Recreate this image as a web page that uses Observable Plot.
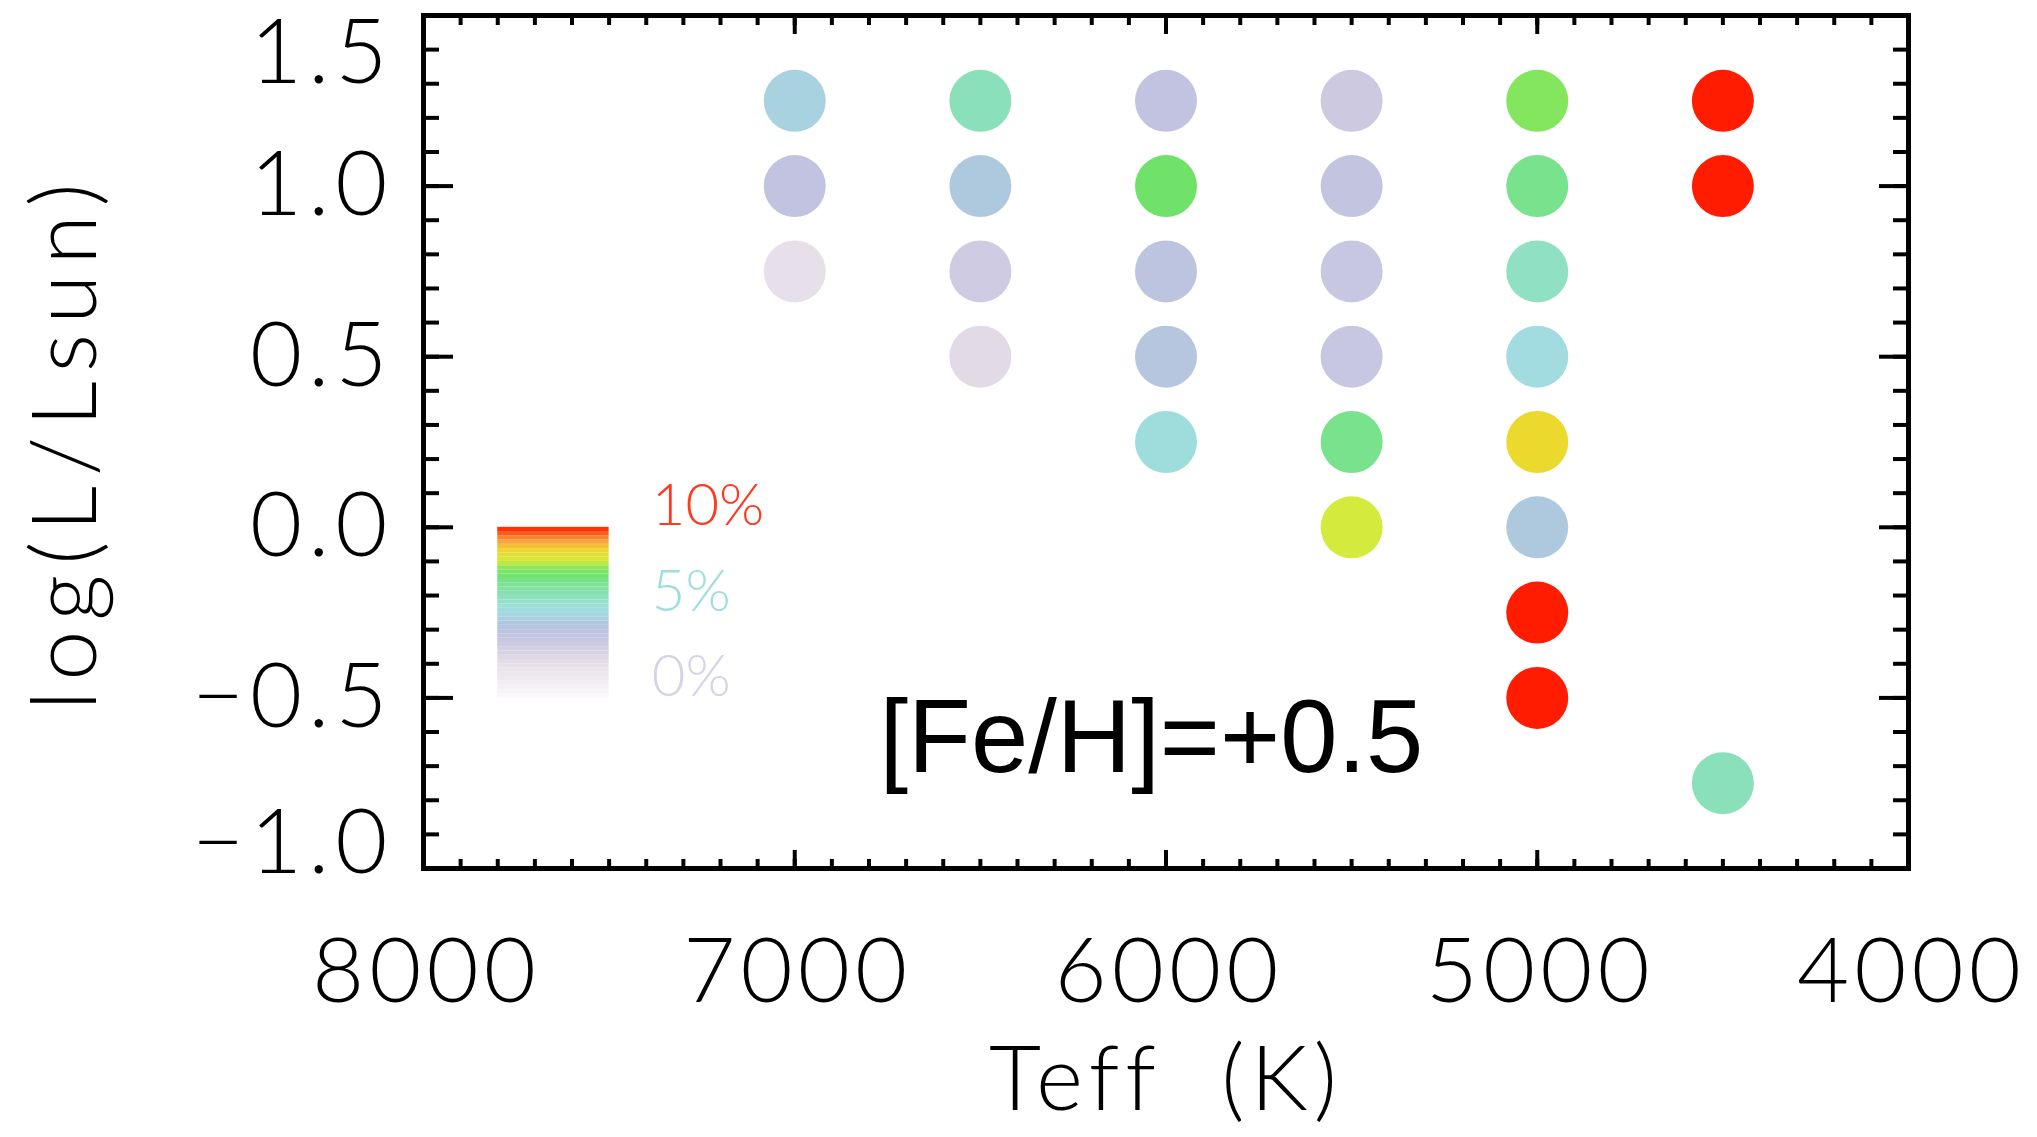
<!DOCTYPE html>
<html><head><meta charset="utf-8">
<script src="https://cdn.jsdelivr.net/npm/d3@7"></script>
<script src="https://cdn.jsdelivr.net/npm/@observablehq/plot@0.6"></script>
<style>
html,body{margin:0;padding:0;background:#fff;}
#chart svg{display:block;}
</style></head><body><div id="chart"></div>
<script>
// Data: effective temperature (K), log(L/Lsun), amplitude in percent
const teff = [7000,7000,7000, 6500,6500,6500,6500, 6000,6000,6000,6000,6000, 5500,5500,5500,5500,5500,5500, 5000,5000,5000,5000,5000,5000,5000,5000, 4500,4500,4500];
const logL = [1.25,1.0,0.75, 1.25,1.0,0.75,0.5, 1.25,1.0,0.75,0.5,0.25, 1.25,1.0,0.75,0.5,0.25,0.0, 1.25,1.0,0.75,0.5,0.25,0.0,-0.25,-0.5, 1.25,1.0,-0.75];
const pct  = [4.7,3.7,1.9, 6.0,4.4,3.1,2.2, 3.7,7.2,3.9,4.1,5.2, 3.2,3.6,3.4,3.4,6.8,8.0, 7.55,6.8,5.8,5.0,8.6,4.4,12,12, 12,12,6.0];

const xMajorTicks = [8000,7000,6000,5000,4000];
const yMajorTicks = [-1,-0.5,0,0.5,1,1.5];
const legendLabels = ["10%","5%","0%"];
const xTitle = "Teff\u00a0 (K)";
const yTitle = "log(L/Lsun)";
const annotation = "[Fe/H]=+0.5";

// colour table stops (percent -> colour)
const colorStops = [0,1,2,3,3.7,4.4,5,5.5,6,6.8,7.2,7.6,8,8.6,9.2,10];
const colorRange = ["#fbfafb","#efebf0","#e6dee8","#d0cce2","#c1c3e0","#aec8de","#a2dbe0","#98e0d4","#8ae0b8","#78e28c","#70e26a","#86e65c","#d4ea3c","#ecd92e","#f8a040","#ff1c00"];
const labelColors = ["#ff3a20","#9fdede","#d8d2e8"];

const points = teff.map((t,i) => ({teff: t, logL: logL[i], pct: pct[i]}));
const xMinor = d3.range(4000, 8001, 100);
const yMinor = d3.range(-10, 16, 1).map(d => d/10);
const ramp = d3.range(0, 10, 0.25);
const legendPos = {x1: 7800, x2: 7500, yTop: 0, yBottom: -0.5, labelX: 7385, labelY: [0.06, -0.19, -0.44]};
const fmtY = d => (d < 0 ? "\u2212" : "") + Math.abs(d).toFixed(1);
const FS = 90;
const font = "Lato, Roboto, sans-serif";
const W = 300;

const tickAxis = (fn, anchor, ticks, size) => fn({anchor, ticks, tickSize: size, fill: "none", strokeWidth: 4, label: null});

const chart = Plot.plot({
  width: 2037, height: 1137,
  marginLeft: 423, marginRight: 129, marginTop: 15, marginBottom: 269,
  x: {domain: [8000, 4000]},
  y: {domain: [-1, 1.5]},
  color: {type: "linear", domain: colorStops, range: colorRange, interpolate: "rgb", clamp: true},
  style: {fontFamily: font, fontWeight: W, background: "#fff", color: "#000"},
  marks: [
    // legend ramp
    Plot.rect(ramp, {x1: legendPos.x1, x2: legendPos.x2,
      y1: d => legendPos.yBottom + d/10*(legendPos.yTop - legendPos.yBottom),
      y2: d => legendPos.yBottom + (d+0.25)/10*(legendPos.yTop - legendPos.yBottom),
      fill: d => d + 0.125}),
    Plot.text(legendLabels, {x: legendPos.labelX, y: (d,i) => legendPos.labelY[i], text: d => d,
      fill: (d,i) => labelColors[i], textAnchor: "start", lineAnchor: "middle", fontSize: 58, fontWeight: W}),
    // points
    Plot.dot(points, {x: "teff", y: "logL", r: 31, fill: "pct"}),
    // annotation
    Plot.text([annotation], {x: 6772, y: -0.718, text: d => d, textAnchor: "start", lineAnchor: "bottom",
      fontFamily: "Liberation Sans, Arial, sans-serif", fontWeight: 400, fontSize: 103, fill: "#000"}),
    // inward ticks, all four sides
    tickAxis(Plot.axisX, "bottom", xMinor, -9),
    tickAxis(Plot.axisX, "bottom", xMajorTicks, -18),
    tickAxis(Plot.axisX, "top", xMinor, -9),
    tickAxis(Plot.axisX, "top", xMajorTicks, -18),
    tickAxis(Plot.axisY, "left", yMinor, -16),
    tickAxis(Plot.axisY, "left", yMajorTicks, -30),
    tickAxis(Plot.axisY, "right", yMinor, -16),
    tickAxis(Plot.axisY, "right", yMajorTicks, -30),
    // tick labels
    Plot.axisX({anchor: "bottom", ticks: xMajorTicks, tickSize: 0, tickPadding: 70, tickFormat: d3.format("d"), fontSize: FS, dx: 3, label: null}),
    Plot.axisY({anchor: "left", ticks: yMajorTicks.slice(1, 5), tickSize: 0, tickPadding: 30, tickFormat: fmtY, fontSize: FS, label: null}),
    Plot.axisY({anchor: "left", ticks: [yMajorTicks[5]], tickSize: 0, tickPadding: 30, tickFormat: fmtY, fontSize: FS, dy: 39, label: null}),
    Plot.axisY({anchor: "left", ticks: [yMajorTicks[0]], tickSize: 0, tickPadding: 30, tickFormat: fmtY, fontSize: FS, dy: -24, label: null}),
    // axis titles
    Plot.text([xTitle], {frameAnchor: "bottom", dy: 213, dx: 0, text: d => d, textAnchor: "middle", lineAnchor: "middle", fontSize: FS, fontWeight: W, fill: "#000"}),
    Plot.text([yTitle], {frameAnchor: "left", dx: -356, dy: 0, rotate: -90, text: d => d, textAnchor: "middle", lineAnchor: "middle", fontSize: FS, fontWeight: W, fill: "#000"}),
    Plot.frame({stroke: "#000", strokeWidth: 5})
  ]
});
document.getElementById("chart").append(chart);

// widen the axis lettering to match the original vector font
const svg = d3.select(chart);
svg.selectAll('g[aria-label="x-axis tick label"] text').style("letter-spacing", "5px");
svg.selectAll('g[aria-label="y-axis tick label"] text').style("letter-spacing", "6px");
svg.selectAll("text").filter(function() { return this.textContent === xTitle; }).style("letter-spacing", "6px");
svg.selectAll("text").filter(function() { return this.textContent === yTitle; }).style("letter-spacing", "10px");
</script>
</body></html>
